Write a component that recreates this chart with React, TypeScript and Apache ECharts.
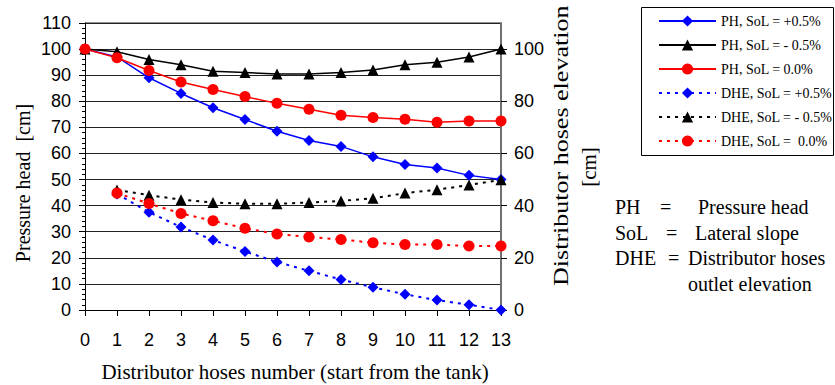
import React, { useEffect, useRef } from "react";
import * as echarts from "echarts";

const hoses = [0, 1, 2, 3, 4, 5, 6, 7, 8, 9, 10, 11, 12, 13];
const dheHoses = [1, 2, 3, 4, 5, 6, 7, 8, 9, 10, 11, 12, 13];

const phPlus = [100, 97, 89, 83, 77.5, 73, 68.5, 65, 62.7, 58.7, 55.8, 54.4, 51.6, 50];
const phMinus = [100, 99, 96, 94, 91.5, 91, 90.5, 90.5, 91, 92, 94, 95, 97, 100];
const phZero = [100, 96.7, 91.8, 87.4, 84.5, 81.8, 79.2, 76.9, 74.6, 73.8, 73.1, 72, 72.4, 72.4];

const dhePlus = [44.5, 37.5, 31.8, 26.8, 22.4, 18.4, 15, 11.7, 8.7, 6, 3.8, 2, 0];
const dheMinus = [46, 44, 42.3, 41.2, 40.7, 40.7, 41.2, 41.8, 42.8, 44.8, 46.1, 47.9, 49.9];
const dheZero = [44.8, 40.8, 37, 34.2, 31.3, 29.1, 28, 27, 25.8, 25.1, 25.1, 24.5, 24.5];

const seriesNames = [
  "PH, SoL = +0.5%",
  "PH, SoL = - 0.5%",
  "PH, SoL = 0.0%",
  "DHE, SoL = +0.5%",
  "DHE, SoL = - 0.5%",
  "DHE, SoL =  0.0%",
];

const leftTicks = [0, 10, 20, 30, 40, 50, 60, 70, 80, 90, 100, 110];

const SERIF = "Liberation Serif";
const SANS = "Liberation Sans";

const pairs = (xs: number[], ys: number[]) => xs.map((x, i) => [x, ys[i]]);

const txt = (text: string, x: number, y: number, size: number, extra: any = {}) => ({
  type: "text",
  x,
  y,
  ...extra,
  style: {
    text,
    fontFamily: SERIF,
    fontSize: size,
    fill: "#000",
    verticalAlign: "middle",
    ...(extra.style || {}),
  },
});

export default function App() {
  const ref = useRef<HTMLDivElement>(null);
  useEffect(() => {
    if (!ref.current) return;
    const chart = echarts.init(ref.current, undefined, { renderer: "svg" });
    const mk = (
      name: string,
      data: number[][],
      color: string,
      symbol: string,
      size: number,
      dotted: boolean,
      yAxisIndex: number
    ) => ({
      name,
      type: "line",
      yAxisIndex,
      data,
      symbol,
      symbolSize: size,
      itemStyle: { color },
      lineStyle: { color, width: dotted ? 2 : 1.5, type: dotted ? [3, 5] : "solid" },
      smooth: false,
    });
    chart.setOption({
      animation: false,
      backgroundColor: "#fff",
      grid: { left: 85, right: 334, top: 23, bottom: 75, containLabel: false },
      legend: {
        orient: "vertical",
        left: 653,
        top: 9,
        itemWidth: 57,
        itemHeight: 14,
        itemGap: 10,
        textStyle: { fontFamily: SERIF, fontSize: 14, color: "#000" },
        data: seriesNames,
      },
      xAxis: {
        type: "value",
        min: 0,
        max: 13,
        interval: 1,
        axisLine: { lineStyle: { color: "#000", width: 1 } },
        axisTick: { show: true, length: 6, lineStyle: { color: "#000" } },
        axisLabel: { fontFamily: SANS, fontSize: 18, color: "#000", margin: 21 },
        splitLine: { show: false },
      },
      yAxis: [
        {
          type: "value",
          min: leftTicks[0],
          max: leftTicks[leftTicks.length - 1],
          interval: 10,
          axisLine: { show: true, lineStyle: { color: "#000", width: 1 } },
          axisTick: { show: true, length: 6, lineStyle: { color: "#000" } },
          minorTick: { show: true, splitNumber: 5, length: 3, lineStyle: { color: "#000" } },
          axisLabel: { fontFamily: SANS, fontSize: 18, color: "#000", margin: 14 },
          splitLine: { show: true, lineStyle: { color: "#222", width: 1 } },
        },
        {
          type: "value",
          min: 0,
          max: 110,
          interval: 20,
          position: "right",
          axisLine: { show: true, lineStyle: { color: "#707070", width: 2 } },
          axisTick: { show: true, length: 6, lineStyle: { color: "#000" } },
          axisLabel: { fontFamily: SANS, fontSize: 18, color: "#000", margin: 13, showMaxLabel: false },
          splitLine: { show: false },
        },
      ],
      graphic: [
        {
          type: "rect",
          shape: { x: 641.5, y: 7.5, width: 192, height: 148 },
          style: { fill: "none", stroke: "#000", lineWidth: 1 },
        },
        {
          type: "line",
          shape: { x1: 85, y1: 23, x2: 501, y2: 23 },
          style: { stroke: "#707070", lineWidth: 1.5 },
        },
        txt("Pressure head  [cm]", 23, 183, 20, { rotation: Math.PI / 2, style: { align: "center" } }),
        txt("Distributor hoses elevation", 561, 286, 21, {
          rotation: Math.PI / 2,
          scaleX: 1.24,
          style: { align: "left" },
        }),
        txt("[cm]", 589, 167, 21, { rotation: Math.PI / 2, style: { align: "center" } }),
        txt("Distributor hoses number (start from the tank)", 295, 372, 21, { style: { align: "center" } }),
        txt("PH", 615, 207, 20),
        txt("=", 660, 207, 20),
        txt("Pressure head", 698, 207, 20),
        txt("SoL", 615, 233, 20),
        txt("=", 666, 233, 20),
        txt("Lateral slope", 695, 233, 20),
        txt("DHE", 615, 258, 20),
        txt("=", 668, 258, 20),
        txt("Distributor hoses", 688, 258, 20),
        txt("outlet elevation", 688, 284, 20),
      ],
      series: [
        mk(seriesNames[0], pairs(hoses, phPlus), "#0000ff", "diamond", 11, false, 0),
        mk(seriesNames[1], pairs(hoses, phMinus), "#000000", "triangle", 11, false, 0),
        mk(seriesNames[2], pairs(hoses, phZero), "#ff0000", "circle", 11, false, 0),
        mk(seriesNames[3], pairs(dheHoses, dhePlus), "#0000ff", "diamond", 11, true, 1),
        mk(seriesNames[4], pairs(dheHoses, dheMinus), "#000000", "triangle", 11, true, 1),
        mk(seriesNames[5], pairs(dheHoses, dheZero), "#ff0000", "circle", 11, true, 1),
      ],
    });
    return () => chart.dispose();
  }, []);
  return (
    <div
      ref={ref}
      style={{ position: "absolute", left: 0, top: 0, width: 835, height: 385, background: "#fff" }}
    />
  );
}
